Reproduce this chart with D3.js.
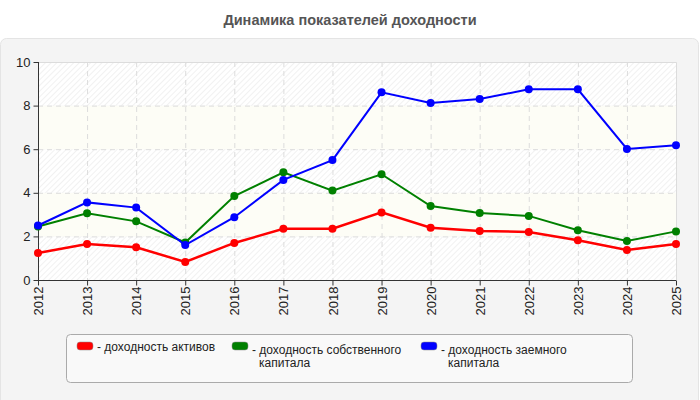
<!DOCTYPE html>
<html>
<head>
<meta charset="utf-8">
<script src="https://cdn.jsdelivr.net/npm/d3@7"></script>
<style>
  body { margin: 0; background: #fff; font-family: 'Liberation Sans', Arial, sans-serif; }
</style>
</head>
<body>
<svg></svg>
<script>
const years = ['2012', '2013', '2014', '2015', '2016', '2017', '2018', '2019', '2020', '2021', '2022', '2023', '2024', '2025'];
const assets = [1.24, 1.65, 1.5, 0.83, 1.7, 2.35, 2.35, 3.1, 2.4, 2.25, 2.2, 1.82, 1.38, 1.65];
const equity = [2.45, 3.06, 2.69, 1.72, 3.85, 4.94, 4.1, 4.85, 3.39, 3.07, 2.94, 2.28, 1.79, 2.23];
const borrowed = [2.5, 3.56, 3.32, 1.6, 2.88, 4.59, 5.5, 8.61, 8.12, 8.3, 8.75, 8.75, 6.01, 6.18];
const yTicks = [0, 2, 4, 6, 8, 10];
const seriesNames = [['- доходность активов'], ['- доходность собственного', 'капитала'], ['- доходность заемного', 'капитала']];

const width = 700;
const height = 400;
const svg = d3.select('svg')
  .attr('width', width)
  .attr('height', height);

const defs = svg.append('defs');
const pat = defs.append('pattern')
  .attr('id', 'hatch')
  .attr('patternUnits', 'userSpaceOnUse')
  .attr('width', 4)
  .attr('height', 4)
  .attr('patternTransform', 'rotate(45)');
pat.append('rect').attr('width', 4).attr('height', 4).attr('fill', '#fff');
pat.append('line')
  .attr('x1', 0).attr('y1', 0).attr('x2', 0).attr('y2', 4)
  .attr('stroke', '#ededed').attr('stroke-width', 1.5);

// panel
svg.append('rect')
  .attr('x', 0.5).attr('y', 38.5)
  .attr('width', 698).attr('height', 370)
  .attr('rx', 6)
  .attr('fill', '#f4f4f4')
  .attr('stroke', '#e4e4e4');

svg.append('text')
  .attr('x', 350).attr('y', 25)
  .attr('text-anchor', 'middle')
  .attr('font-size', 14.5)
  .attr('font-weight', 'bold')
  .attr('fill', '#555')
  .text('Динамика показателей доходности');

const x = d3.scalePoint().domain(years).range([38, 676]);
const y = d3.scaleLinear().domain([0, 10]).range([280, 62]);

// bands
const bands = d3.pairs(yTicks);
svg.append('g').selectAll('rect')
  .data(bands)
  .enter()
  .append('rect')
  .attr('x', 38)
  .attr('width', 638)
  .attr('y', d => y(d[1]))
  .attr('height', d => y(d[0]) - y(d[1]))
  .attr('fill', (d, i) => (i % 2 === 0 ? 'url(#hatch)' : '#fdfdf6'));

// grid
svg.append('g').selectAll('line')
  .data(yTicks.slice(1, -1))
  .enter()
  .append('line')
  .attr('x1', 38).attr('x2', 676)
  .attr('y1', d => y(d) + 0.5).attr('y2', d => y(d) + 0.5)
  .attr('stroke', '#dcdcdc')
  .attr('stroke-dasharray', '5,4');
svg.append('g').selectAll('line')
  .data(years.slice(1, -1))
  .enter()
  .append('line')
  .attr('x1', d => x(d) + 0.5).attr('x2', d => x(d) + 0.5)
  .attr('y1', 62).attr('y2', 280)
  .attr('stroke', '#dcdcdc')
  .attr('stroke-dasharray', '5,4');

// frame top/right
svg.append('path')
  .attr('d', `M38,62.5H676.5V280`)
  .attr('fill', 'none')
  .attr('stroke', '#dcdcdc');

const yAxis = svg.append('g')
  .attr('transform', 'translate(38.5,0)')
  .call(d3.axisLeft(y).tickValues(yTicks).tickSize(5).tickPadding(3));
const xAxis = svg.append('g')
  .attr('transform', 'translate(0,280.5)')
  .call(d3.axisBottom(x).tickSize(5).tickPadding(3));
[yAxis, xAxis].forEach(a => {
  a.select('.domain').attr('stroke', '#333');
  a.selectAll('.tick line').attr('stroke', '#333');
  a.selectAll('text')
    .attr('font-family', "'Liberation Sans', Arial, sans-serif")
    .attr('font-size', 13)
    .attr('fill', '#222');
});
yAxis.select('.domain').attr('d', 'M0,62V280');
xAxis.select('.domain').attr('d', 'M38,0H676');
xAxis.selectAll('.tick text')
  .attr('transform', 'rotate(-90)')
  .attr('text-anchor', 'end')
  .attr('dy', '0.35em')
  .attr('x', -6)
  .attr('y', 0);

const series = [
  { values: assets, color: '#ff0000', w: 2.5 },
  { values: equity, color: '#008000', w: 2 },
  { values: borrowed, color: '#0000ff', w: 2 }
];
const line = d3.line()
  .x((d, i) => x(years[i]))
  .y(d => y(d));

series.forEach(s => {
  const g = svg.append('g');
  g.append('path')
    .attr('d', line(s.values))
    .attr('fill', 'none')
    .attr('stroke', s.color)
    .attr('stroke-width', s.w);
  g.selectAll('circle')
    .data(s.values)
    .enter()
    .append('circle')
    .attr('cx', (d, i) => x(years[i]))
    .attr('cy', d => y(d))
    .attr('r', 4)
    .attr('fill', s.color);
});

// legend
svg.append('rect')
  .attr('x', 66.5).attr('y', 334.5)
  .attr('width', 566).attr('height', 48)
  .attr('rx', 4)
  .attr('fill', '#f9f9f9')
  .attr('stroke', '#aaa');
const legendX = [77, 232, 421];
const leg = svg.append('g').selectAll('g')
  .data(series)
  .enter()
  .append('g')
  .attr('transform', (d, i) => `translate(${legendX[i]},342)`);
leg.append('rect')
  .attr('width', 16).attr('height', 8)
  .attr('rx', 3)
  .attr('fill', d => d.color)
  .attr('stroke', '#888')
  .attr('stroke-width', 0.5);
leg.each(function (d, i) {
  const t = d3.select(this).append('text')
    .attr('font-size', 12)
    .attr('fill', '#222')
    .attr('x', 20)
    .attr('y', i === 0 ? 9 : 12);
  seriesNames[i].forEach((s, j) => {
    t.append('tspan')
      .attr('x', j === 0 ? 20 : 27)
      .attr('dy', j === 0 ? 0 : 13)
      .text(s);
  });
});
</script>
</body>
</html>
